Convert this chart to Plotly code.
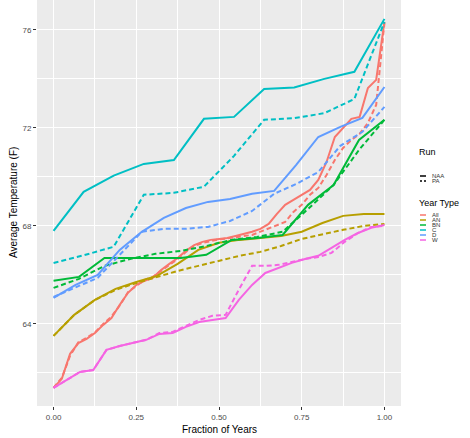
import plotly.graph_objects as go

# Sorted average temperatures (F) per year type, for the NAA and PA runs
year_types = ["All", "AN", "BN", "C", "D", "W"]
type_colors = ["#F8766D", "#B79F00", "#00BA38", "#00BFC4", "#619CFF", "#F564E3"]

all_naa = [61.39, 61.76, 62.78, 63.22, 63.39, 63.63, 63.96, 64.24, 64.78, 65.27, 65.59,
           65.76, 65.88, 66.20, 66.45, 66.69, 66.98, 67.22, 67.35, 67.43, 67.47, 67.51,
           67.59, 67.67, 67.76, 67.88, 68.08, 68.49, 68.86, 69.06, 69.27, 69.47, 69.88,
           70.61, 71.63, 72.00, 72.37, 72.45, 73.63, 73.96, 76.33]
all_pa = [61.39, 61.80, 62.70, 63.25, 63.43, 63.65, 64.00, 64.30, 64.75, 65.30, 65.55,
          65.80, 65.92, 66.16, 66.41, 66.65, 66.94, 67.18, 67.31, 67.39, 67.45, 67.49,
          67.55, 67.59, 67.63, 67.76, 67.92, 68.04, 68.16, 68.57, 68.86, 69.27, 69.55,
          70.08, 70.69, 71.18, 71.51, 71.76, 72.20, 72.94, 76.29]

an_naa = [63.51, 64.37, 64.98, 65.43, 65.71, 65.96, 66.45, 67.02, 67.31, 67.43, 67.51,
          67.59, 67.76, 68.12, 68.41, 68.49, 68.49]
an_pa = [63.51, 64.37, 64.98, 65.39, 65.67, 65.92, 66.16, 66.37, 66.57, 66.78, 66.94,
         67.18, 67.47, 67.67, 67.84, 68.00, 68.08]

bn_naa = [65.76, 65.92, 66.69, 66.69, 66.69, 66.69, 66.82, 67.43, 67.51, 67.63, 68.86,
          69.67, 71.51, 72.33]
bn_pa = [65.47, 65.84, 66.37, 66.65, 66.86, 66.98, 67.18, 67.43, 67.55, 67.76, 68.69,
         69.67, 71.10, 72.33]

c_naa = [67.80, 69.39, 70.05, 70.53, 70.69, 72.37, 72.45, 73.59, 73.65, 74.00, 74.29, 76.45]
c_pa = [66.49, 66.80, 67.15, 69.27, 69.35, 69.60, 70.86, 72.33, 72.40, 72.60, 73.18, 76.33]

d_naa = [65.06, 65.59, 66.00, 67.02, 67.76, 68.33, 68.73, 68.98, 69.10, 69.31, 69.43,
         70.49, 71.63, 72.04, 72.41, 73.67]
d_pa = [65.10, 65.50, 65.88, 66.82, 67.76, 67.88, 67.88, 67.96, 68.20, 68.61, 69.31,
        69.71, 70.20, 71.27, 71.84, 72.86]

w_naa = [61.39, 61.71, 62.04, 62.12, 62.94, 63.10, 63.22, 63.35, 63.59, 63.63, 63.88,
         64.08, 64.16, 64.24, 64.98, 65.59, 66.08, 66.29, 66.49, 66.65, 66.78, 67.10,
         67.43, 67.71, 67.92, 68.04]
w_pa = [61.39, 61.71, 62.04, 62.12, 62.94, 63.10, 63.22, 63.35, 63.63, 63.67, 63.92,
        64.16, 64.33, 64.37, 65.40, 66.37, 66.37, 66.41, 66.53, 66.65, 66.73, 66.90,
        67.35, 67.71, 67.96, 68.00]

runs = ["NAA", "PA"]
run_dash = {"NAA": "solid", "PA": "5px,3px"}
series = {
    "All": (all_naa, all_pa),
    "AN": (an_naa, an_pa),
    "BN": (bn_naa, bn_pa),
    "C": (c_naa, c_pa),
    "D": (d_naa, d_pa),
    "W": (w_naa, w_pa),
}

x_ticks = [0, 0.25, 0.5, 0.75, 1.0]
x_ticklabels = ["0.00", "0.25", "0.50", "0.75", "1.00"]
y_ticks = [64, 68, 72, 76]

W_FIG, H_FIG = 470, 438
M_L, M_R, M_T, M_B = 37, 69, 0, 32
PW = W_FIG - M_L - M_R
PH = H_FIG - M_T - M_B


def fraction(n):
    return [i / (n - 1) for i in range(n)]


fig = go.Figure()
for yt, col in zip(year_types, type_colors):
    for run, vals in zip(runs, series[yt]):
        fig.add_trace(go.Scatter(
            x=fraction(len(vals)), y=vals, mode="lines",
            line=dict(color=col, width=2, dash=run_dash[run]),
            name=f"{yt} {run}", showlegend=False,
        ))

axis_font = dict(family="Liberation Sans, Arial, sans-serif", size=8, color="#4D4D4D")

fig.update_layout(
    width=W_FIG, height=H_FIG,
    margin=dict(l=M_L, r=M_R, t=M_T, b=M_B),
    paper_bgcolor="white", plot_bgcolor="#EBEBEB",
    font=dict(family="Liberation Sans, Arial, sans-serif"),
    xaxis=dict(
        range=[-0.05, 1.05], tickvals=x_ticks, ticktext=x_ticklabels,
        showgrid=True, gridcolor="white", gridwidth=1.4, zeroline=False,
        ticks="outside", ticklen=3, tickcolor="#333333", tickwidth=1,
        tickfont=axis_font,
        minor=dict(dtick=0.125, tick0=0, showgrid=True, gridcolor="white", gridwidth=0.7),
    ),
    yaxis=dict(
        range=[60.65, 77.22], tickvals=y_ticks,
        showgrid=True, gridcolor="white", gridwidth=1.4, zeroline=False,
        ticks="outside", ticklen=3, tickcolor="#333333", tickwidth=1,
        tickfont=axis_font,
        minor=dict(dtick=2, tick0=60, showgrid=True, gridcolor="white", gridwidth=0.7),
    ),
)


def px_x(px):
    return (px - M_L) / PW


def px_y(py):
    return (H_FIG - M_B - py) / PH


annotations = [
    dict(text="Fraction of Years", x=px_x(219), y=px_y(429), xref="paper", yref="paper",
         showarrow=False, font=dict(size=10, color="black"), xanchor="center", yanchor="middle"),
    dict(text="Average Temperature (F)", x=px_x(13), y=px_y(203), xref="paper", yref="paper",
         showarrow=False, textangle=-90, font=dict(size=10, color="black"),
         xanchor="center", yanchor="middle"),
    dict(text="Run", x=px_x(417), y=px_y(152), xref="paper", yref="paper",
         showarrow=False, font=dict(size=9, color="black"), xanchor="left", yanchor="middle"),
    dict(text="Year Type", x=px_x(417), y=px_y(203), xref="paper", yref="paper",
         showarrow=False, font=dict(size=9, color="black"), xanchor="left", yanchor="middle"),
]
shapes = []

run_rows = [176, 181]
for run, row in zip(runs, run_rows):
    shapes.append(dict(type="line", xref="paper", yref="paper",
                       x0=px_x(420), x1=px_x(426), y0=px_y(row), y1=px_y(row),
                       line=dict(color="black", width=1.5,
                                 dash="solid" if run == "NAA" else "2px,2px")))
    annotations.append(dict(text=run, x=px_x(430), y=px_y(row), xref="paper", yref="paper",
                            showarrow=False, font=dict(size=6, color="#333333"),
                            xanchor="left", yanchor="middle"))

type_rows = [215, 220, 225, 230, 235, 240]
for yt, col, row in zip(year_types, type_colors, type_rows):
    shapes.append(dict(type="line", xref="paper", yref="paper",
                       x0=px_x(420), x1=px_x(426), y0=px_y(row), y1=px_y(row),
                       line=dict(color=col, width=1.5)))
    annotations.append(dict(text=yt, x=px_x(430), y=px_y(row), xref="paper", yref="paper",
                            showarrow=False, font=dict(size=6, color="#333333"),
                            xanchor="left", yanchor="middle"))

fig.update_layout(annotations=annotations, shapes=shapes)

fig.write_html("out.html")
